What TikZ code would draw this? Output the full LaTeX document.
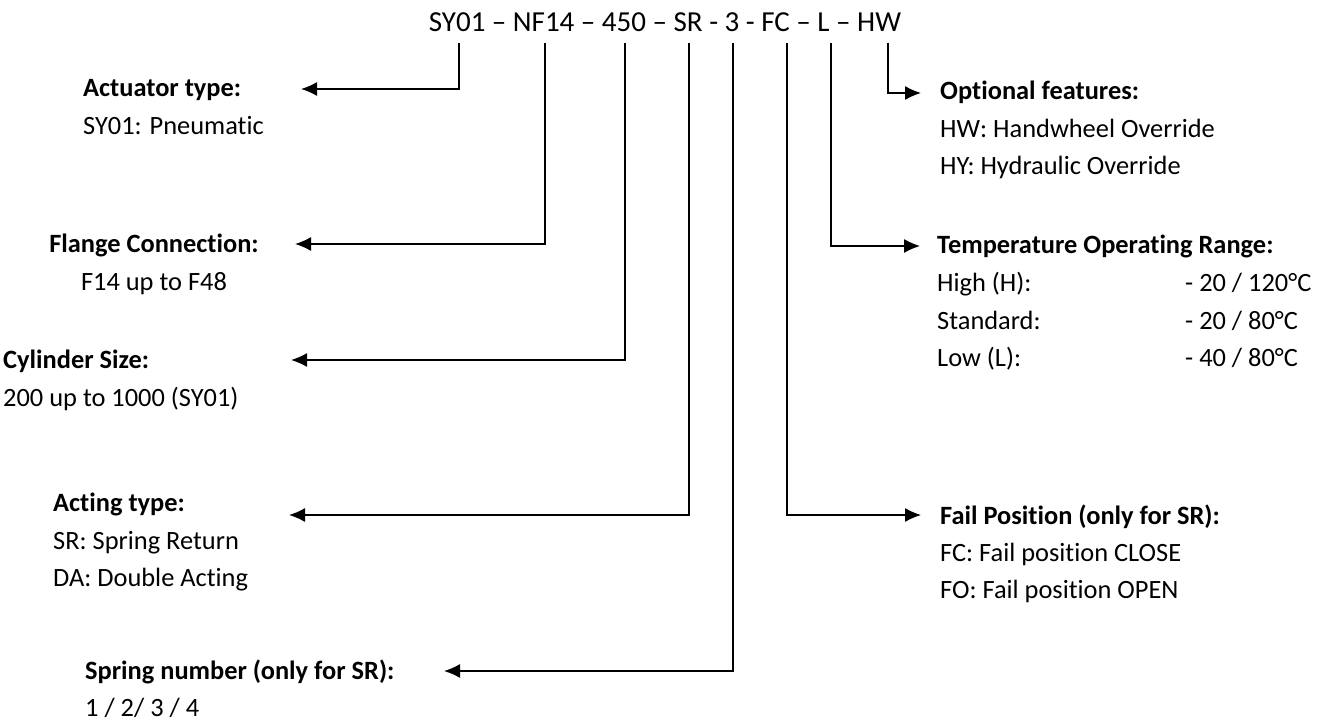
\documentclass[tikz,border=0pt]{standalone}
\usepackage{fontspec}
\setmainfont{Carlito}[Ligatures=CommonOff]
\usetikzlibrary{arrows.meta}
\begin{document}
\begin{tikzpicture}[x=1pt,y=-1pt,
  every node/.style={inner sep=0pt},
  lab/.style={font=\fontsize{26.4}{32}\selectfont\bfseries, anchor=base west},
  txt/.style={font=\fontsize{26.4}{32}\selectfont, anchor=base west},
  labc/.style={font=\fontsize{26.4}{32}\selectfont\bfseries, anchor=base},
  txtc/.style={font=\fontsize{26.4}{32}\selectfont, anchor=base},
  conn/.style={line width=1.3pt, draw=black, -{Latex[length=16pt,width=14pt]}}]
\useasboundingbox (0,0) rectangle (1325,722);
% code line
\node[font=\fontsize{29}{35}\selectfont, anchor=base] (code) at (665,32) {SY01 – NF14 – 450 – SR - 3 - FC – L – HW};
% line tops
\coordinate (tSY) at (459,43);
\coordinate (tNF) at (545,43);
\coordinate (tSZ) at (625,43);
\coordinate (tSR) at (689,43);
\coordinate (tSN) at (733,43);
\coordinate (tFC) at (787,43);
\coordinate (tL)  at (831,43);
\coordinate (tHW) at (888,43);
% arrow tips
\coordinate (hSY) at (301,89);
\coordinate (hNF) at (295,244);
\coordinate (hSZ) at (291,360);
\coordinate (hSR) at (289,515);
\coordinate (hSN) at (444,671);
\coordinate (hFC) at (921,515);
\coordinate (hL)  at (920,246);
\coordinate (hHW) at (921,93);
% left labels
\node[lab] (act) at (83,97) {Actuator type:};
\node[txt] (act1) at (83,135) {SY01: Pneumatic};
\node[labc] (fl) at (154,252) {Flange Connection:};
\node[txtc] (fl1) at (154,290) {F14 up to F48};
\node[lab] (cy) at (3,368) {Cylinder Size:};
\node[txt] (cy1) at (3,406) {200 up to 1000 (SY01)};
\node[lab] (ac) at (53,511) {Acting type:};
\node[txt] (ac1) at (53,549) {SR: Spring Return};
\node[txt] (ac2) at (53,586) {DA: Double Acting};
\node[lab] (sp) at (85,679) {Spring number (only for SR):};
\node[txt] (sp1) at (85,716) {1 / 2/ 3 / 4};
% right labels
\node[lab] (op) at (940,100) {Optional features:};
\node[txt] (op1) at (940,138) {HW: Handwheel Override};
\node[txt] (op2) at (940,175) {HY: Hydraulic Override};
\node[lab] (te) at (937,254) {Temperature Operating Range:};
\node[txt] (te1) at (937,291) {High (H):};
\node[txt] (te2) at (937,329) {Standard:};
\node[txt] (te3) at (937,366) {Low (L):};
\node[txt] (tv1) at (1185,291) {- 20 / 120°C};
\node[txt] (tv2) at (1185,329) {- 20 / 80°C};
\node[txt] (tv3) at (1185,366) {- 40 / 80°C};
\node[lab] (fp) at (940,524) {Fail Position (only for SR):};
\node[txt] (fp1) at (940,561) {FC: Fail position CLOSE};
\node[txt] (fp2) at (940,598) {FO: Fail position OPEN};
% connectors
\draw[conn] (tSY) |- (hSY);
\draw[conn] (tNF) |- (hNF);
\draw[conn] (tSZ) |- (hSZ);
\draw[conn] (tSR) |- (hSR);
\draw[conn] (tSN) |- (hSN);
\draw[conn] (tFC) |- (hFC);
\draw[conn] (tL)  |- (hL);
\draw[conn] (tHW) |- (hHW);
\end{tikzpicture}
\end{document}
